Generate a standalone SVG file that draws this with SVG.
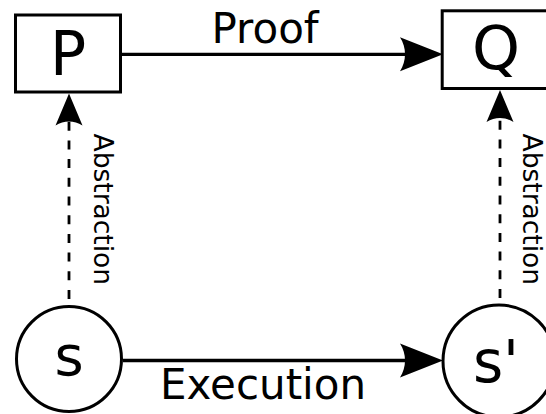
<svg xmlns="http://www.w3.org/2000/svg" width="546" height="414" viewBox="0 0 546 414">
  <style>
    .box { fill: #ffffff; stroke: #000000; stroke-width: 3; }
    .lbl { font-family: "DejaVu Sans", sans-serif; fill: #000000; }
    .solid { stroke: #000000; stroke-width: 3.3; fill: none; }
    .dash { stroke: #000000; stroke-width: 2.8; fill: none; stroke-dasharray: 9 9.7; }
  </style>
  <defs>
    <marker id="ah-l" markerUnits="userSpaceOnUse" orient="auto" refX="-28" refY="0" overflow="visible">
      <path d="M0,0 L-43,-17 C-36.3,-6.5 -36.3,6.5 -43,17 Z" fill="#000000"/>
    </marker>
    <marker id="ah-s" markerUnits="userSpaceOnUse" orient="auto" refX="-22" refY="0" overflow="visible">
      <path d="M0,0 L-32,-13.5 C-26.7,-5 -26.7,5 -32,13.5 Z" fill="#000000"/>
    </marker>
  </defs>
  <rect width="546" height="414" fill="#ffffff"/>

  <g id="connectors">
    <line class="solid" x1="121" y1="54.3" x2="415" y2="54.3" marker-end="url(#ah-l)"/>
    <line class="solid" x1="123" y1="360.5" x2="415" y2="360.5" marker-end="url(#ah-l)"/>
    <line class="dash" x1="69" y1="305" x2="69" y2="115.5" stroke-dashoffset="-6" marker-end="url(#ah-s)"/>
    <line class="dash" x1="500" y1="304" x2="500" y2="112" stroke-dashoffset="-6" marker-end="url(#ah-s)"/>
    <text class="lbl" x="211.5" y="43" font-size="42">Proof</text>
    <text class="lbl" x="160" y="398.5" font-size="42">Execution</text>
    <text class="lbl" font-size="26.5" transform="translate(93.5,133.5) rotate(90)">Abstraction</text>
    <text class="lbl" font-size="26.5" transform="translate(523,133.5) rotate(90)">Abstraction</text>
  </g>

  <g id="node-P">
    <rect class="box" x="15.5" y="15" width="105" height="77"/>
    <text class="lbl" x="68" y="75" font-size="60" text-anchor="middle">P</text>
  </g>
  <g id="node-Q">
    <rect class="box" x="442.2" y="10.8" width="120" height="77.7"/>
    <text class="lbl" x="496" y="69" font-size="61" text-anchor="middle">Q</text>
  </g>
  <g id="node-s">
    <circle class="box" cx="69" cy="359" r="52.5"/>
    <text class="lbl" x="69" y="375" font-size="56" text-anchor="middle">s</text>
  </g>
  <g id="node-s-prime">
    <circle class="box" cx="499" cy="361" r="56"/>
    <text class="lbl" x="496" y="381.5" font-size="58" text-anchor="middle">s'</text>
  </g>
</svg>
